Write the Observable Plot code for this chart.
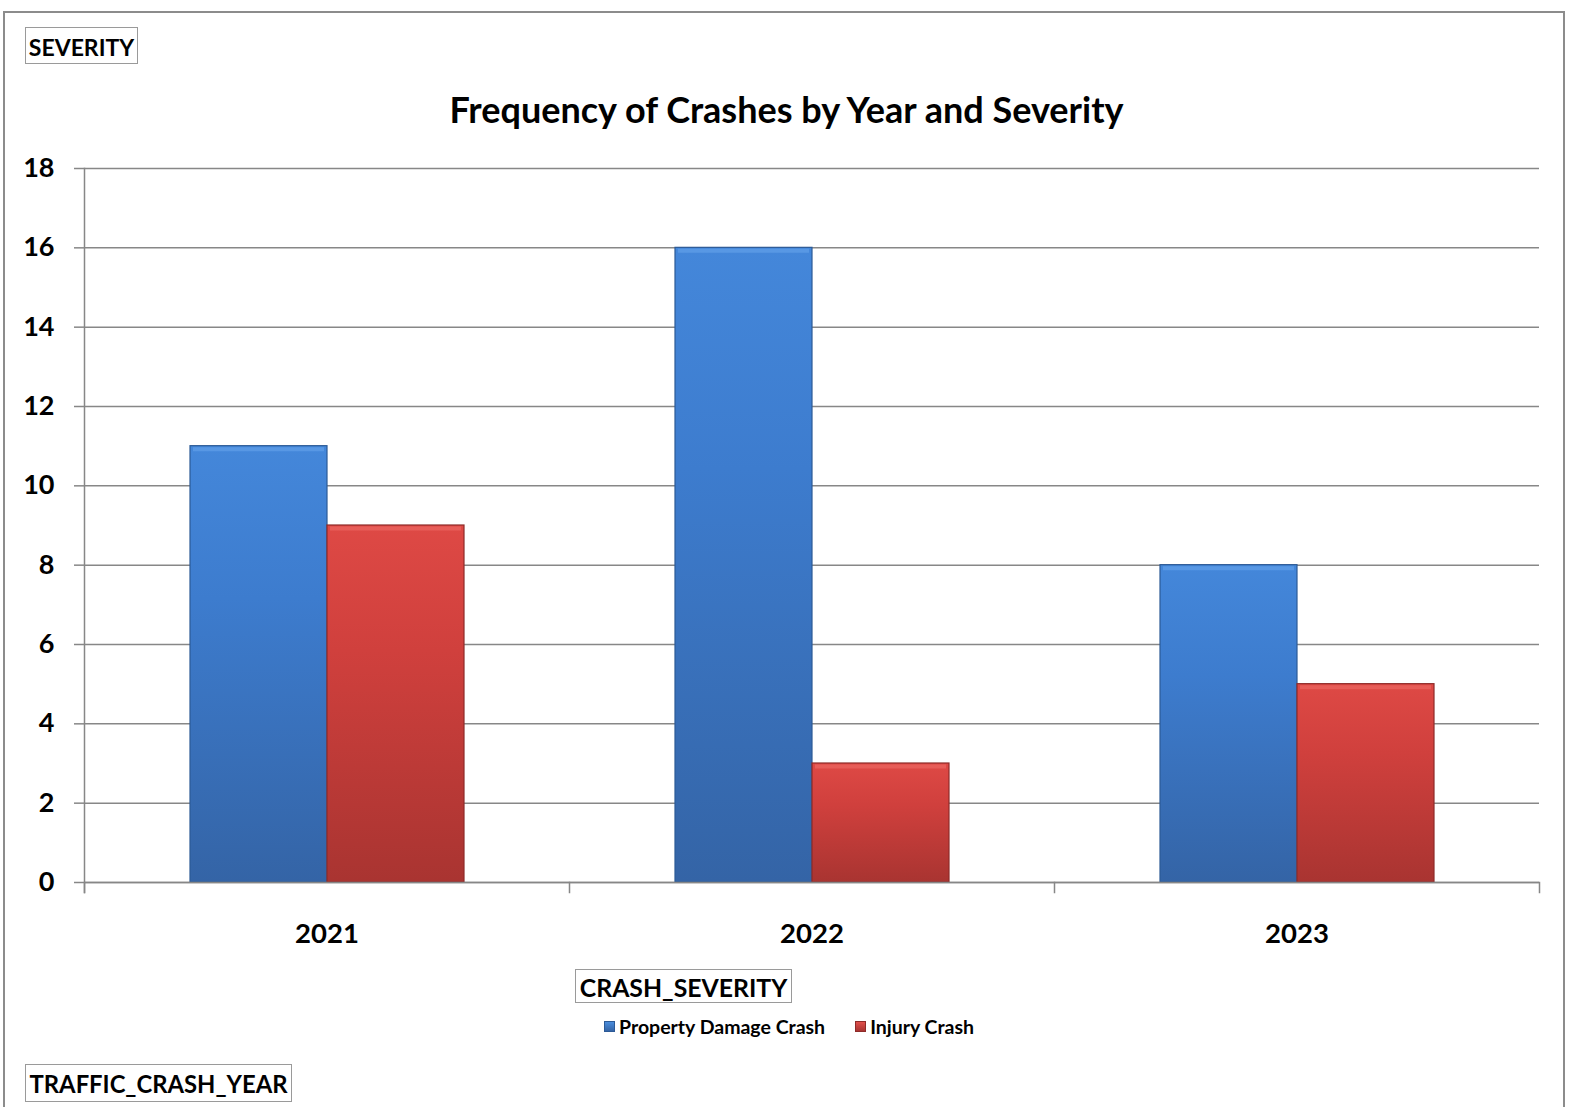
<!DOCTYPE html>
<html>
<head>
<meta charset="utf-8">
<script src="https://cdn.jsdelivr.net/npm/d3@7"></script>
<script src="https://cdn.jsdelivr.net/npm/@observablehq/plot@0.6"></script>
<style>
  html, body { margin: 0; padding: 0; background: #fff; }
  #wrap { position: relative; width: 1573px; height: 1107px; overflow: hidden; font-family: Lato, "Open Sans", sans-serif; color: #000; }
  .outer { position: absolute; left: 3px; top: 11px; width: 1562px; height: 1200px; border: 2px solid #8c8c8c; box-sizing: border-box; }
  .title { position: absolute; left: 0; width: 1573px; top: 89px; text-align: center; font-size: 36px; font-weight: bold; line-height: 40px; }
  .box { position: absolute; border: 1.5px solid #9a9a9a; box-sizing: border-box; display: flex; align-items: center; justify-content: center; font-weight: bold; white-space: nowrap; padding-top: 2px; }
  .legend { position: absolute; top: 1015px; left: 604px; display: flex; align-items: center; font-size: 19.5px; font-weight: bold; white-space: nowrap; }
  .legend .sw { display: inline-block; width: 11px; height: 11px; margin-right: 4px; box-sizing: border-box; }
  .legend .item { display: flex; align-items: center; margin-right: 30px; }
  #chart { position: absolute; left: 0; top: 0; }
</style>
</head>
<body>
<div id="wrap">
  <div class="outer"></div>
  <div class="box" style="left:25px;top:27px;width:113px;height:37px;font-size:23px;">SEVERITY</div>
  <div class="title" id="title"></div>
  <div id="chart"></div>
  <div class="box" style="left:575px;top:969px;width:217px;height:34px;font-size:24.8px;">CRASH_SEVERITY</div>
  <div class="legend" id="legend"></div>
  <div class="box" style="left:25px;top:1064px;width:267px;height:38px;font-size:23.8px;">TRAFFIC_CRASH_YEAR</div>
</div>
<script>
// ---- data ----
const titleText = "Frequency of Crashes by Year and Severity";
const years = ["2021", "2022", "2023"];
const severities = ["Property Damage Crash", "Injury Crash"];
const propertyDamage = [11, 16, 8];
const injury = [9, 3, 5];
const yTicks = [0, 2, 4, 6, 8, 10, 12, 14, 16, 18];

const data = years.flatMap((year, i) => [
  {year, severity: severities[0], count: propertyDamage[i]},
  {year, severity: severities[1], count: injury[i]}
]);

document.getElementById("title").textContent = titleText;

const gridColor = "#878787";
const edge = new Map([[severities[0], "#2c5a96"], [severities[1], "#8e2b29"]]);
const hilite = new Map([[severities[0], "#6aa6ec"], [severities[1], "#ef6f6a"]]);

const chart = Plot.plot({
  width: 1573,
  height: 1107,
  marginTop: 168,
  marginBottom: 225,
  marginLeft: 83,
  marginRight: 33,
  style: {fontFamily: "Lato, 'Open Sans', sans-serif", background: "transparent", overflow: "visible", color: "#000"},
  fx: {domain: years, padding: 0, label: null},
  x: {domain: severities, paddingInner: 0, paddingOuter: 0.76, axis: null},
  y: {domain: [0, 18], label: null},
  color: {domain: severities, range: ["url(#gBlue)", "url(#gRed)"]},
  marks: [
    Plot.gridY(yTicks, {stroke: gridColor, strokeOpacity: 1, strokeWidth: 1.5}),
    Plot.axisY(yTicks, {tickSize: 10, tickPadding: 20, fontSize: 27, fontWeight: "bold", stroke: gridColor, strokeWidth: 1.5, fill: "#000", label: null}),
    Plot.axisFx({anchor: "bottom", tickSize: 0, tickPadding: 41, fontSize: 27.5, fontWeight: "bold", fill: "#000", label: null}),
    Plot.frame({anchor: "left", facetAnchor: "left", insetBottom: -10, stroke: gridColor, strokeWidth: 1.5}),
    Plot.frame({anchor: "left", insetTop: 714, insetBottom: -10, stroke: gridColor, strokeWidth: 1.5}),
    Plot.frame({anchor: "right", facetAnchor: "right", insetTop: 714, insetBottom: -10, stroke: gridColor, strokeWidth: 1.5}),
    Plot.barY(data, {fx: "year", x: "severity", y: "count", fill: "severity", stroke: d => edge.get(d.severity), strokeWidth: 1.2}),
    Plot.tickY(data, {fx: "year", x: "severity", y: "count", stroke: d => hilite.get(d.severity), strokeWidth: 4, dy: 3, inset: 3, strokeOpacity: 0.55}),
    Plot.ruleY([0], {stroke: gridColor, strokeWidth: 1.5})
  ]
});

// gradient definitions for the bar fills
const defs = d3.select(chart).insert("defs", ":first-child");
function grad(id, stops) {
  const g = defs.append("linearGradient").attr("id", id).attr("x1", 0).attr("y1", 0).attr("x2", 0).attr("y2", 1);
  stops.forEach(([o, c]) => g.append("stop").attr("offset", o).attr("stop-color", c));
}
grad("gBlue", [[0, "#4487da"], [0.35, "#3d7cce"], [1, "#3464a6"]]);
grad("gRed", [[0, "#de4945"], [0.35, "#d0403d"], [1, "#a93431"]]);

document.getElementById("chart").appendChild(chart);

// legend
const legend = d3.select("#legend");
const swatchFill = ["linear-gradient(#4a8ddc,#3464a6)", "linear-gradient(#e0504b,#a83331)"];
severities.forEach((s, i) => {
  const item = legend.append("div").attr("class", "item");
  item.append("span").attr("class", "sw")
    .style("background", swatchFill[i])
    .style("border", "1px solid " + edge.get(s));
  item.append("span").text(s);
});
</script>
</body>
</html>
